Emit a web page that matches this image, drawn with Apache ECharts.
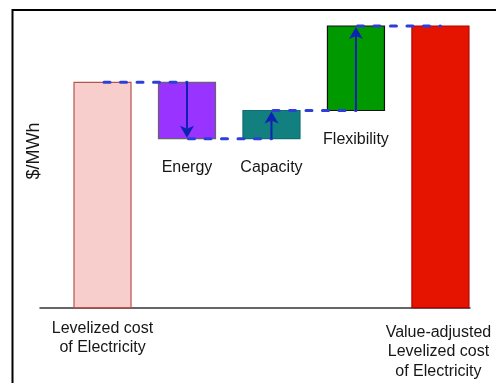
<!DOCTYPE html>
<html>
<head>
<meta charset="utf-8">
<script src="https://cdn.jsdelivr.net/npm/echarts@6/dist/echarts.min.js"></script>
<style>
  html, body { margin: 0; padding: 0; background: #fff; }
  #chart { width: 496px; height: 383px; }
</style>
</head>
<body>
<div id="chart"></div>
<script>
// Value-adjusted LCOE waterfall ($/MWh)
const categories = [
  'Levelized cost\nof Electricity',
  'Energy',
  'Capacity',
  'Flexibility',
  'Value-adjusted\nLevelized cost\nof Electricity'
];
const lcoe = 80;                  // starting total
const adjustments = [-20, 10, 30]; // Energy, Capacity, Flexibility
const valcoe = 100;               // resulting total
const yAxisName = '$/MWh';

// Bar styling, one entry per category
const fills   = ['#f8cecc', '#9933ff', '#12807f', '#009900', '#e51400'];
const strokes = ['#b85450', '#666666', '#0e6f73', '#111111', '#b20000'];

// Build [position, start, end] rows for the waterfall
const rows = [[0, 0, lcoe]];
let level = lcoe;
adjustments.forEach((d, k) => {
  rows.push([k + 1, level, level + d]);
  level += d;
});
rows.push([categories.length - 1, 0, valcoe]);

const FONT = '"Liberation Sans", Arial, Helvetica, sans-serif';
const last = rows.length - 1;

function renderItem(params, api) {
  const idx = params.dataIndex;
  const i = api.value(0), s = api.value(1), e = api.value(2);
  const w = api.size([1, 0])[0] * 0.675;
  const pS = api.coord([i, s]);
  const pE = api.coord([i, e]);
  const top = Math.min(pS[1], pE[1]);
  const bot = Math.max(pS[1], pE[1]);
  const cx = pS[0];
  const children = [];

  children.push({
    type: 'rect',
    z2: 1,
    shape: { x: cx - w / 2, y: top, width: w, height: bot - top },
    style: { fill: fills[idx], stroke: strokes[idx], lineWidth: 1.2 }
  });

  const isStep = idx > 0 && idx < last;
  if (isStep) {
    const dir = pE[1] < pS[1] ? -1 : 1; // -1 up, +1 down
    const headLen = 12, headW = 7, notch = 3;
    const tipY = pE[1] - dir * 1;
    children.push({
      type: 'line',
      z2: 20,
      shape: { x1: cx, y1: pS[1], x2: cx, y2: tipY - dir * (headLen - notch) },
      style: { stroke: '#0d22b0', lineWidth: 2 }
    });
    children.push({
      type: 'polygon',
      z2: 21,
      shape: {
        points: [
          [cx, tipY],
          [cx - headW, tipY - dir * headLen],
          [cx, tipY - dir * (headLen - notch)],
          [cx + headW, tipY - dir * headLen]
        ]
      },
      style: { fill: '#0d22b0' }
    });
  }

  if (idx < last) {
    const a = api.coord([i, e]);
    const b = api.coord([i + 1, e]);
    children.push({
      type: 'line',
      z2: 15,
      shape: { x1: a[0] + 1.5, y1: a[1], x2: b[0], y2: b[1] },
      style: { stroke: '#2d3fd8', lineWidth: 3, lineDash: [6, 10.5], lineCap: 'round' }
    });
  }

  const labelY = isStep ? bot + 19 : api.coord([i, 0])[1] + (idx === 0 ? 11 : 15);
  children.push({
    type: 'text',
    z2: 30,
    style: {
      text: categories[idx],
      x: cx - (idx === last ? 2 : 0),
      y: labelY,
      align: 'center',
      verticalAlign: 'top',
      font: '16px ' + FONT,
      lineHeight: 19.5,
      fill: '#161616'
    }
  });

  return { type: 'group', children };
}

const chart = echarts.init(document.getElementById('chart'), null, { renderer: 'canvas' });
chart.setOption({
  animation: false,
  backgroundColor: '#ffffff',
  grid: { left: 40, right: 26, top: 26, bottom: 75.3 },
  xAxis: {
    type: 'value',
    min: -0.74,
    max: 4.35,
    axisLine: { show: true, lineStyle: { color: '#333333', width: 1.5 } },
    axisTick: { show: false },
    axisLabel: { show: false },
    splitLine: { show: false }
  },
  yAxis: {
    type: 'value',
    min: 0,
    max: 100,
    axisLine: { show: false },
    axisTick: { show: false },
    axisLabel: { show: false },
    splitLine: { show: false }
  },
  graphic: [
    {
      type: 'rect',
      left: 10, top: 7.5,
      shape: { x: 0, y: 0, width: 520, height: 420 },
      style: { fill: 'none', stroke: '#000000', lineWidth: 2 },
      silent: true
    },
    {
      type: 'text',
      x: 34, y: 151,
      rotation: Math.PI / 2,
      style: {
        text: yAxisName,
        font: '18px ' + FONT,
        fill: '#161616',
        align: 'center',
        verticalAlign: 'middle'
      }
    }
  ],
  series: [{
    type: 'custom',
    clip: false,
    renderItem: renderItem,
    encode: { x: 0, y: [1, 2] },
    data: rows
  }]
});
</script>
</body>
</html>
